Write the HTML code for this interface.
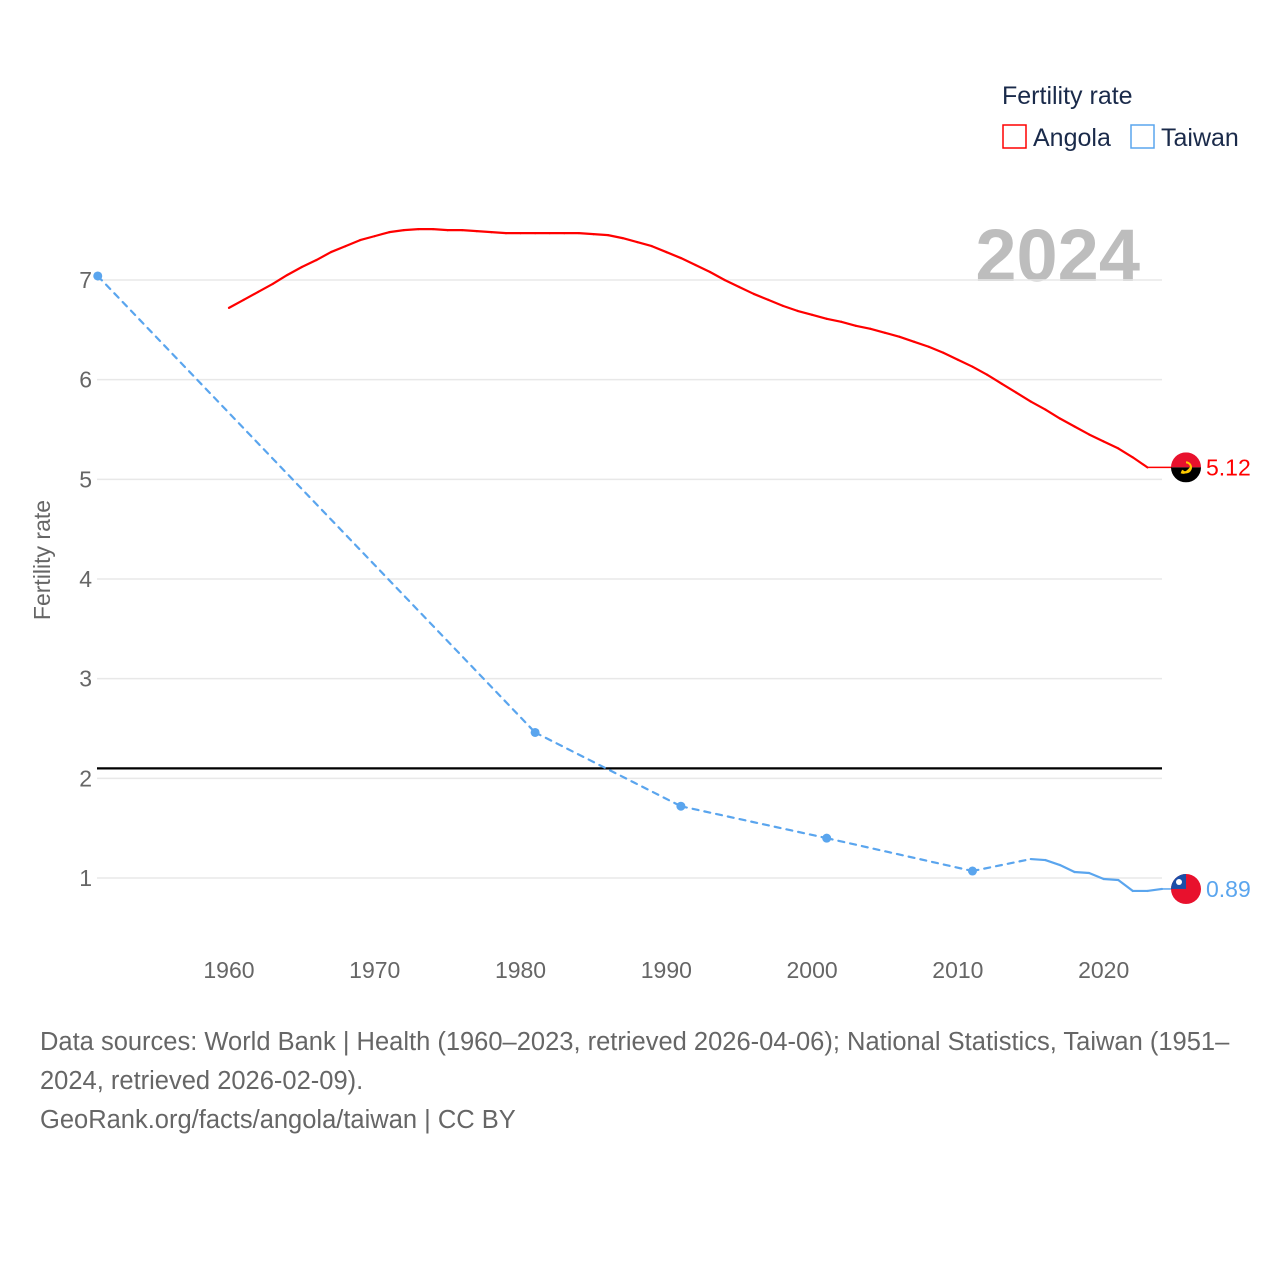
<!DOCTYPE html>
<html><head><meta charset="utf-8">
<style>
body{margin:0;background:#fff;font-family:"Liberation Sans",sans-serif;}
#wrap{position:relative;width:1280px;height:1280px;}
</style></head>
<body>
<div id="wrap">
<svg id="chart" width="1280" height="1280" xmlns="http://www.w3.org/2000/svg">
<text x="1002" y="104" font-size="25" fill="#1a2a4a">Fertility rate</text>
<g>
<rect x="1003" y="125" width="23" height="23" fill="none" stroke="#ff0000" stroke-width="1.5"/>
<text x="1033" y="146" font-size="25" fill="#1a2a4a">Angola</text></g>
<g>
<rect x="1131" y="125" width="23" height="23" fill="none" stroke="#5aa5ee" stroke-width="1.5"/>
<text x="1161" y="146" font-size="25" fill="#1a2a4a">Taiwan</text></g>
<text x="1140" y="281" font-size="74" font-weight="bold" fill="#bdbdbd" text-anchor="end">2024</text>
<text transform="translate(50,560) rotate(-90)" font-size="23" fill="#666" text-anchor="middle">Fertility rate</text>
<g id="grid"></g><g id="marks"></g>
<text x="40" y="1050" font-size="25.5" fill="#666">Data sources: World Bank | Health (1960–2023, retrieved 2026-04-06); National Statistics, Taiwan (1951–</text>
<text x="40" y="1089" font-size="25.5" fill="#666">2024, retrieved 2026-02-09).</text>
<text x="40" y="1128" font-size="25.5" fill="#666">GeoRank.org/facts/angola/taiwan | CC BY</text>
</svg>
</div>
<script>
const yTicks=[1,2,3,4,5,6,7];
const xTicks=[1960,1970,1980,1990,2000,2010,2020];
const angolaYears=[1960,1961,1962,1963,1964,1965,1966,1967,1968,1969,1970,1971,1972,1973,1974,1975,1976,1977,1978,1979,1980,1981,1982,1983,1984,1985,1986,1987,1988,1989,1990,1991,1992,1993,1994,1995,1996,1997,1998,1999,2000,2001,2002,2003,2004,2005,2006,2007,2008,2009,2010,2011,2012,2013,2014,2015,2016,2017,2018,2019,2020,2021,2022,2023];
const angolaValues=[6.72,6.80,6.88,6.96,7.05,7.13,7.20,7.28,7.34,7.40,7.44,7.48,7.50,7.51,7.51,7.50,7.50,7.49,7.48,7.47,7.47,7.47,7.47,7.47,7.47,7.46,7.45,7.42,7.38,7.34,7.28,7.22,7.15,7.08,7.00,6.93,6.86,6.80,6.74,6.69,6.65,6.61,6.58,6.54,6.51,6.47,6.43,6.38,6.33,6.27,6.20,6.13,6.05,5.96,5.87,5.78,5.70,5.61,5.53,5.45,5.38,5.31,5.22,5.12];
const taiwanYears=[1951,1981,1991,2001,2011,2015,2016,2017,2018,2019,2020,2021,2022,2023,2024];
const taiwanValues=[7.04,2.46,1.72,1.40,1.07,1.19,1.18,1.13,1.06,1.05,0.99,0.98,0.87,0.87,0.89];
const replacementRate=2.1;
const latestLabels=["5.12","0.89"];

const X0=97.75,X1=1162,Y0=1951,Y1=2024;
function xs(y){return X0+(y-Y0)*(X1-X0)/(Y1-Y0);}
function ys(v){return 878-(v-1)*99.67;}
const NS="http://www.w3.org/2000/svg";
function mk(tag,attrs,parent){const e=document.createElementNS(NS,tag);for(const k in attrs)e.setAttribute(k,attrs[k]);parent.appendChild(e);return e;}
const grid=document.getElementById('grid'),marks=document.getElementById('marks');
yTicks.forEach(t=>{
 const l=mk('line',{x1:97,x2:1162,y1:ys(t),y2:ys(t),stroke:'#e8e8e8','stroke-width':1.5},grid);
 
 
 const tx=mk('text',{x:92,y:ys(t)+8,'font-size':23,fill:'#666','text-anchor':'end'},grid);
 tx.textContent=t;
 
 
});
xTicks.forEach(t=>{
 const tx=mk('text',{x:xs(t),y:978,'font-size':23,fill:'#666','text-anchor':'middle'},grid);
 tx.textContent=t;
 
 
});
const rl=mk('line',{x1:97,x2:1162,y1:ys(replacementRate),y2:ys(replacementRate),stroke:'#000','stroke-width':2.2},marks);



function drawSeries(years,vals,color,name){
 for(let i=1;i<years.length;i++){
  const dashed=years[i]-years[i-1]>1;
  const s=mk('line',{x1:xs(years[i-1]),y1:ys(vals[i-1]),x2:xs(years[i]),y2:ys(vals[i]),stroke:color,'stroke-width':2.2,'stroke-linecap':'round'},marks);
  if(dashed)s.setAttribute('stroke-dasharray','6,6');
  
  
 }
 for(let i=0;i<years.length;i++){
  const isolated=(i===0||years[i]-years[i-1]>1)&&(i===years.length-1||years[i+1]-years[i]>1);
  if(isolated){
   const c=mk('circle',{cx:xs(years[i]),cy:ys(vals[i]),r:4.5,fill:color},marks);
   
   
  }
 }
}
drawSeries(angolaYears,angolaValues,'#ff0000','angola');
drawSeries(taiwanYears,taiwanValues,'#5aa5ee','taiwan');

const aEnd=ys(parseFloat(latestLabels[0])), tEnd=ys(parseFloat(latestLabels[1]));
const ac=mk('line',{x1:xs(2023),y1:ys(angolaValues[angolaValues.length-1]),x2:1172,y2:aEnd,stroke:'#ff0000','stroke-width':1.5},marks);


const tc=mk('line',{x1:xs(2024),y1:ys(taiwanValues[taiwanValues.length-1]),x2:1172,y2:tEnd,stroke:'#5aa5ee','stroke-width':1.5},marks);



const defs=mk('defs',{},marks);
const cp1=mk('clipPath',{id:'cpA'},defs);mk('circle',{cx:1186,cy:aEnd,r:15},cp1);
const cp2=mk('clipPath',{id:'cpT'},defs);mk('circle',{cx:1186,cy:tEnd,r:15},cp2);
const fa=mk('g',{'clip-path':'url(#cpA)'},marks);


mk('rect',{x:1171,y:aEnd-15,width:30,height:15,fill:'#e8112d'},fa);
mk('rect',{x:1171,y:aEnd,width:30,height:15,fill:'#000'},fa);
mk('path',{d:`M1181 ${aEnd+5} q5 2 10 -5 M1186 ${aEnd-5} a5 5 0 1 1 -4 8`,stroke:'#ffcb00','stroke-width':2,fill:'none'},fa);
const ft=mk('g',{'clip-path':'url(#cpT)'},marks);


mk('rect',{x:1171,y:tEnd-15,width:30,height:30,fill:'#e8112d'},ft);
mk('rect',{x:1171,y:tEnd-15,width:15,height:15,fill:'#1a4ea8'},ft);
mk('circle',{cx:1179,cy:tEnd-7,r:3,fill:'#fff'},ft);

const la=mk('text',{x:1206,y:aEnd+8,'font-size':23,fill:'#ff0000'},marks);
la.textContent=latestLabels[0];


const lt=mk('text',{x:1206,y:tEnd+8,'font-size':23,fill:'#5aa5ee'},marks);
lt.textContent=latestLabels[1];


</script>
</body></html>
